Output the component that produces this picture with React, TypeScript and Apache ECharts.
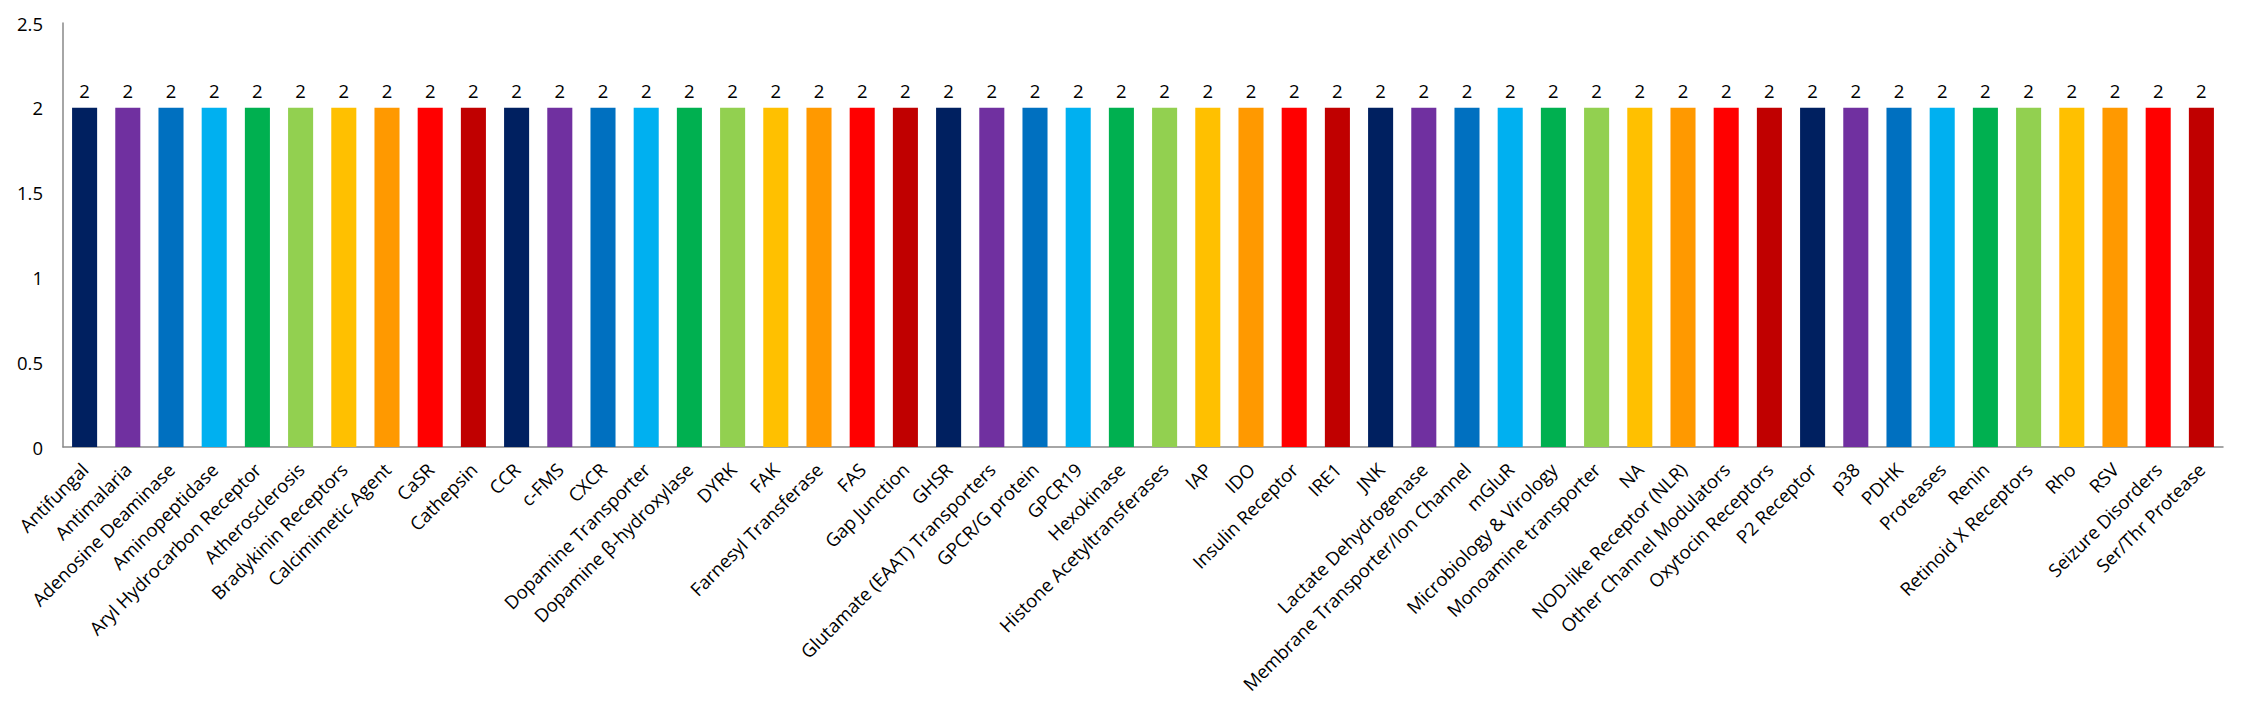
import React, { useEffect, useRef } from "react";
import * as echarts from "echarts";

const categories: string[] = [
  "Antifungal", "Antimalaria", "Adenosine Deaminase", "Aminopeptidase", "Aryl Hydrocarbon Receptor",
  "Atherosclerosis", "Bradykinin Receptors", "Calcimimetic Agent", "CaSR", "Cathepsin",
  "CCR", "c-FMS", "CXCR", "Dopamine Transporter", "Dopamine β-hydroxylase",
  "DYRK", "FAK", "Farnesyl Transferase", "FAS", "Gap Junction",
  "GHSR", "Glutamate (EAAT) Transporters", "GPCR/G protein", "GPCR19", "Hexokinase",
  "Histone Acetyltransferases", "IAP", "IDO", "Insulin Receptor", "IRE1",
  "JNK", "Lactate Dehydrogenase", "Membrane Transporter/Ion Channel", "mGluR", "Microbiology & Virology",
  "Monoamine transporter", "NA", "NOD-like Receptor (NLR)", "Other Channel Modulators", "Oxytocin Receptors",
  "P2 Receptor", "p38", "PDHK", "Proteases", "Renin",
  "Retinoid X Receptors", "Rho", "RSV", "Seizure Disorders", "Ser/Thr Protease",
];

const values: number[] = [
  2, 2, 2, 2, 2, 2, 2, 2, 2, 2,
  2, 2, 2, 2, 2, 2, 2, 2, 2, 2,
  2, 2, 2, 2, 2, 2, 2, 2, 2, 2,
  2, 2, 2, 2, 2, 2, 2, 2, 2, 2,
  2, 2, 2, 2, 2, 2, 2, 2, 2, 2,
];

const palette: string[] = [
  "#002060", "#7030A0", "#0070C0", "#00B0F0", "#00B050",
  "#92D050", "#FFC000", "#FF9900", "#FF0000", "#C00000",
];

const FONT = "'Open Sans', sans-serif";

export default function App() {
  const ref = useRef<HTMLDivElement>(null);
  useEffect(() => {
    document.body.style.margin = "0";
    if (!ref.current) return;
    const chart = echarts.init(ref.current, undefined, { renderer: "svg" });
    chart.setOption({
      animation: false,
      color: palette,
      textStyle: { fontFamily: FONT },
      grid: { left: 63, right: 21, top: 23, bottom: 262, containLabel: false },
      xAxis: {
        type: "category",
        data: categories,
        axisLine: { show: true, lineStyle: { color: "#898989", width: 1.5 } },
        axisTick: { show: false },
        axisLabel: {
          interval: 0,
          rotate: 45,
          margin: 19,
          fontSize: 18.5,
          color: "#000",
          fontFamily: FONT,
        },
      },
      yAxis: {
        type: "value",
        min: 0,
        max: 2.5,
        interval: 0.5,
        axisLine: { show: true, lineStyle: { color: "#898989", width: 1.5 } },
        axisTick: { show: false },
        splitLine: { show: false },
        axisLabel: { fontSize: 18.5, color: "#000", margin: 20, fontFamily: FONT },
      },
      series: [
        {
          type: "bar",
          data: values,
          colorBy: "data",
          barWidth: "58%",
          label: {
            show: true,
            position: "top",
            distance: 8,
            fontSize: 18.5,
            color: "#000",
            fontFamily: FONT,
          },
        },
      ],
    });
    return () => chart.dispose();
  }, []);
  return <div ref={ref} style={{ width: "2244px", height: "709px" }} />;
}
